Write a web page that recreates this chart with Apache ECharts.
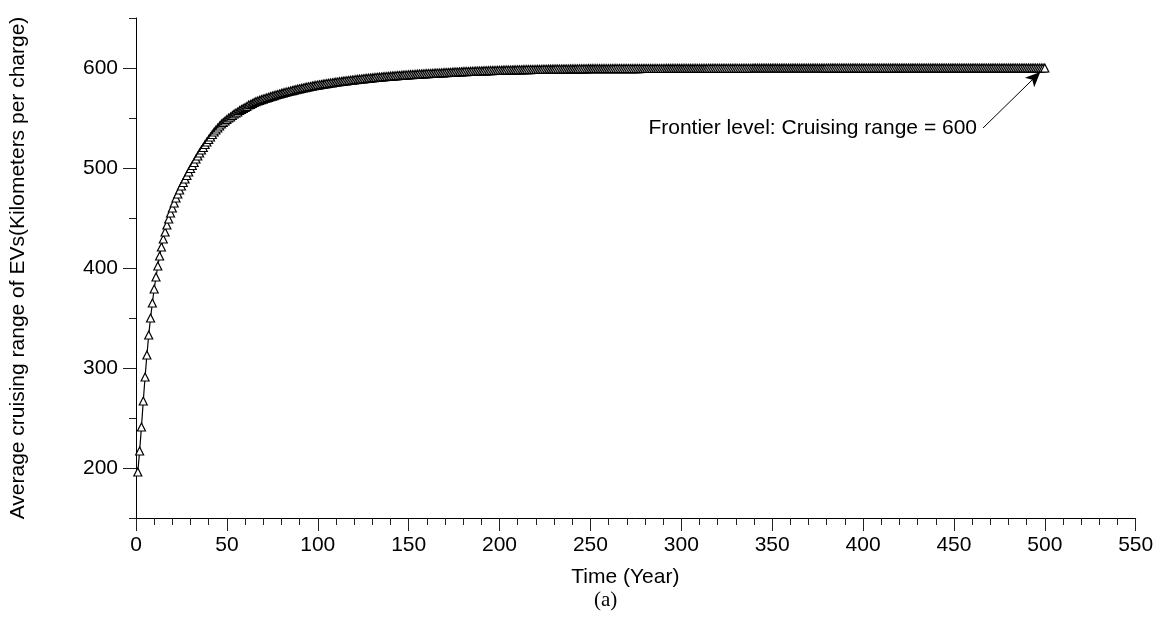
<!DOCTYPE html>
<html>
<head>
<meta charset="utf-8">
<script src="https://cdn.jsdelivr.net/npm/echarts@6/dist/echarts.min.js"></script>
<style>
  html, body { margin: 0; padding: 0; background: #fff; }
  #chart { width: 1164px; height: 627px; }
</style>
</head>
<body>
<div id="chart"></div>
<script>
// Average cruising range of EVs (km per charge), one value per simulated year starting at year 1
const firstYear = 1;
const cruisingRange = [
  196, 217, 241, 267, 291, 313, 333, 350, 365, 379,
  391, 402, 412, 421, 429, 436, 443, 449, 455, 460,
  465, 470, 474, 478, 482, 485.5, 489, 492.5, 496, 499.5,
  502.5, 505.5, 509, 512, 515, 518, 520.5, 523.5, 526, 528.5,
  531, 533.5, 536, 538, 540, 542, 544, 545.5, 547, 548.5,
  550, 551, 552.5, 554, 555, 556, 557.5, 558.5, 559.5, 560.5,
  561.5, 563, 563.5, 564.5, 565.5, 566.3, 567, 567.6, 568.3, 568.9,
  569.5, 570.1, 570.7, 571.3, 571.9, 572.4, 573, 573.5, 574, 574.6,
  575.1, 575.6, 576, 576.5, 577, 577.4, 577.9, 578.3, 578.8, 579.2,
  579.6, 580, 580.4, 580.8, 581.2, 581.5, 581.9, 582.3, 582.6, 582.9,
  583.2, 583.5, 583.8, 584.1, 584.4, 584.7, 585, 585.2, 585.5, 585.8,
  586, 586.3, 586.5, 586.8, 587, 587.2, 587.5, 587.7, 587.9, 588.1,
  588.4, 588.6, 588.8, 589, 589.2, 589.4, 589.6, 589.8, 589.9, 590.1,
  590.3, 590.5, 590.7, 590.8, 591, 591.2, 591.3, 591.5, 591.6, 591.8,
  591.9, 592.1, 592.2, 592.4, 592.5, 592.6, 592.8, 592.9, 593, 593.2,
  593.3, 593.4, 593.5, 593.6, 593.8, 593.9, 594, 594.1, 594.2, 594.3,
  594.4, 594.5, 594.6, 594.7, 594.8, 594.9, 595, 595.1, 595.2, 595.3,
  595.4, 595.5, 595.6, 595.7, 595.8, 595.9, 596, 596.1, 596.2, 596.3,
  596.4, 596.4, 596.5, 596.6, 596.7, 596.7, 596.8, 596.9, 597, 597,
  597.1, 597.2, 597.2, 597.3, 597.4, 597.4, 597.5, 597.5, 597.6, 597.7,
  597.7, 597.8, 597.8, 597.9, 597.9, 598, 598, 598.1, 598.1, 598.2,
  598.2, 598.2, 598.3, 598.3, 598.4, 598.4, 598.4, 598.5, 598.5, 598.5,
  598.6, 598.6, 598.6, 598.7, 598.7, 598.7, 598.8, 598.8, 598.8, 598.8,
  598.9, 598.9, 598.9, 598.9, 599, 599, 599, 599, 599.1, 599.1,
  599.1, 599.1, 599.1, 599.2, 599.2, 599.2, 599.2, 599.2, 599.3, 599.3,
  599.3, 599.3, 599.3, 599.3, 599.3, 599.3, 599.3, 599.3, 599.3, 599.3,
  599.3, 599.4, 599.4, 599.4, 599.4, 599.4, 599.4, 599.4, 599.4, 599.4,
  599.4, 599.4, 599.4, 599.4, 599.4, 599.4, 599.4, 599.5, 599.5, 599.5,
  599.5, 599.5, 599.5, 599.5, 599.5, 599.5, 599.5, 599.5, 599.5, 599.5,
  599.5, 599.6, 599.6, 599.6, 599.6, 599.6, 599.6, 599.6, 599.6, 599.6,
  599.6, 599.6, 599.6, 599.6, 599.6, 599.6, 599.6, 599.6, 599.6, 599.6,
  599.6, 599.6, 599.6, 599.6, 599.7, 599.7, 599.7, 599.7, 599.7, 599.7,
  599.7, 599.7, 599.7, 599.7, 599.7, 599.7, 599.7, 599.7, 599.7, 599.7,
  599.7, 599.7, 599.7, 599.7, 599.7, 599.7, 599.7, 599.7, 599.7, 599.8,
  599.8, 599.8, 599.8, 599.8, 599.8, 599.8, 599.8, 599.8, 599.8, 599.8,
  599.8, 599.8, 599.8, 599.8, 599.8, 599.8, 599.8, 599.8, 599.8, 599.8,
  599.8, 599.8, 599.8, 599.8, 599.8, 599.8, 599.8, 599.8, 599.8, 599.8,
  599.8, 599.8, 599.8, 599.8, 599.8, 599.8, 599.8, 599.8, 599.8, 599.9,
  599.9, 599.9, 599.9, 599.9, 599.9, 599.9, 599.9, 599.9, 599.9, 599.9,
  599.9, 599.9, 599.9, 599.9, 599.9, 599.9, 599.9, 599.9, 599.9, 599.9,
  599.9, 599.9, 599.9, 599.9, 599.9, 599.9, 599.9, 599.9, 599.9, 599.9,
  599.9, 599.9, 599.9, 599.9, 599.9, 599.9, 599.9, 599.9, 599.9, 600,
  600, 600, 600, 600, 600, 600, 600, 600, 600, 600,
  600, 600, 600, 600, 600, 600, 600, 600, 600, 600,
  600, 600, 600, 600, 600, 600, 600, 600, 600, 600,
  600, 600, 600, 600, 600, 600, 600, 600, 600, 600,
  600, 600, 600, 600, 600, 600, 600, 600, 600, 600,
  600, 600, 600, 600, 600, 600, 600, 600, 600, 600,
  600, 600, 600, 600, 600, 600, 600, 600, 600, 600,
  600, 600, 600, 600, 600, 600, 600, 600, 600, 600
];

// Axis ticks
const yMajorTicks = [200, 300, 400, 500, 600];
const yMinorTicks = [150, 250, 350, 450, 550, 650];

// Annotation pointing at the frontier level
const annotationText = 'Frontier level: Cruising range = 600';
const arrowFrom = [466, 540];
const arrowTo = [497.5, 596];

const seriesData = cruisingRange.map((v, i) => [firstYear + i, v]);

const FONT = '"Liberation Sans", Arial, Helvetica, sans-serif';
const FS = 21;
const chart = echarts.init(document.getElementById('chart'), null, { renderer: 'canvas' });

chart.setOption({
  animation: false,
  backgroundColor: '#fff',
  textStyle: { fontFamily: FONT, color: '#000' },
  grid: { left: 135.7, right: 28.3, top: 18, bottom: 109, containLabel: false },
  xAxis: {
    type: 'value',
    min: 0, max: 550, interval: 50,
    name: 'Time (Year)',
    nameLocation: 'middle',
    nameGap: 49,
    nameTextStyle: { fontSize: FS, fontFamily: FONT, color: '#000', padding: [0, 21, 0, 0] },
    axisLine: { show: true, lineStyle: { color: '#000', width: 1 } },
    axisTick: { show: true, length: 13, lineStyle: { color: '#222', width: 1 } },
    minorTick: { show: true, splitNumber: 5, length: 7, lineStyle: { color: '#222', width: 1 } },
    axisLabel: { fontSize: FS, fontFamily: FONT, color: '#000', margin: 17 },
    splitLine: { show: false }
  },
  yAxis: [
    {
      type: 'value',
      min: 150, max: 650,
      position: 'left',
      name: 'Average cruising range of EVs(Kilometers per charge)',
      nameLocation: 'middle',
      nameGap: 107,
      nameRotate: 90,
      nameTextStyle: { fontSize: FS, fontFamily: FONT, color: '#000' },
      axisLine: { show: true, onZero: false, lineStyle: { color: '#000', width: 1 } },
      axisTick: { show: true, length: 13, customValues: yMajorTicks, lineStyle: { color: '#222', width: 1 } },
      axisLabel: { customValues: yMajorTicks, fontSize: FS, fontFamily: FONT, color: '#000', margin: 18 },
      splitLine: { show: false }
    },
    {
      type: 'value',
      min: 150, max: 650,
      position: 'left',
      axisLine: { show: false },
      axisTick: { show: true, length: 7, customValues: yMinorTicks, lineStyle: { color: '#222', width: 1 } },
      axisLabel: { show: false, customValues: yMinorTicks },
      splitLine: { show: false }
    }
  ],
  series: [
    {
      type: 'line',
      yAxisIndex: 0,
      data: seriesData,
      symbol: 'triangle',
      symbolSize: [8, 8],
      showAllSymbol: true,
      lineStyle: { color: '#000', width: 1.2 },
      itemStyle: { color: '#fff', borderColor: '#000', borderWidth: 1.2 },
      emphasis: { disabled: true },
      z: 2,
      markLine: {
        silent: true,
        symbol: ['none', 'arrow'],
        symbolSize: [10, 15],
        lineStyle: { color: '#000', width: 1, type: 'solid' },
        label: { show: false },
        data: [[{ coord: arrowFrom }, { coord: arrowTo }]],
        z: 5
      },
      markPoint: {
        silent: true,
        symbol: 'circle',
        symbolSize: 0,
        data: [{ coord: arrowFrom }],
        label: {
          show: true,
          position: 'left',
          distance: 6,
          formatter: annotationText,
          fontSize: FS,
          fontFamily: FONT,
          color: '#000'
        }
      }
    }
  ],
  graphic: [
    {
      type: 'text',
      left: 594,
      top: 590,
      style: { text: '(a)', font: '21px "Liberation Serif", "Times New Roman", serif', fill: '#000' }
    }
  ]
});
</script>
</body>
</html>
